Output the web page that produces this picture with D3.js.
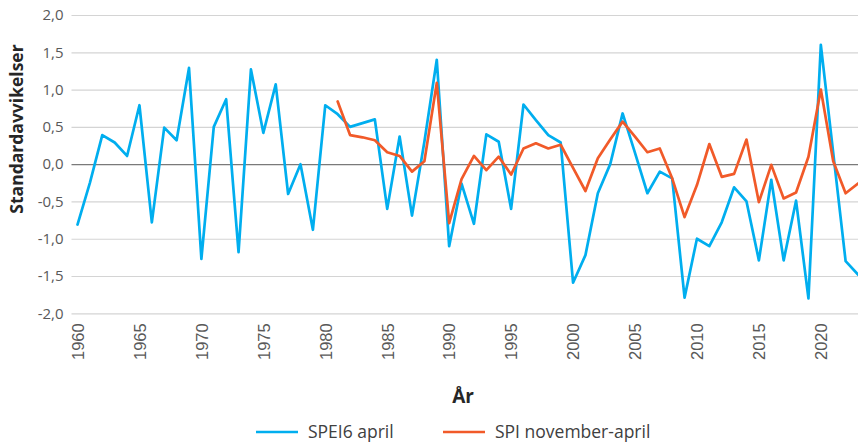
<!DOCTYPE html>
<html>
<head>
<meta charset="utf-8">
<script src="https://cdn.jsdelivr.net/npm/d3@7"></script>
<style>
	body { margin: 0; background: #fff; }
	svg { display: block; }
</style>
</head>
<body>
<div id="root"></div>
<script>
// SPEI6 april, 1960-2023
const years = d3.range(1960, 2024);
const spei6 = [
	-0.81, -0.25, 0.39, 0.29, 0.11, 0.79, -0.78, 0.49, 0.32, 1.29,
	-1.27, 0.5, 0.87, -1.18, 1.27, 0.42, 1.07, -0.4, 0.0, -0.88,
	0.79, 0.67, 0.5, 0.55, 0.6, -0.6, 0.37, -0.69, 0.3, 1.4,
	-1.1, -0.26, -0.8, 0.4, 0.3, -0.6, 0.8, 0.59, 0.39, 0.29,
	-1.59, -1.22, -0.39, 0.0, 0.68, 0.15, -0.39, -0.1, -0.19, -1.79,
	-1.0, -1.1, -0.78, -0.31, -0.5, -1.29, -0.21, -1.29, -0.49, -1.8,
	1.6, 0.15, -1.3, -1.48,
];

// SPI november-april, 1981-2023
const spiYears = d3.range(1981, 2024);
const spi = [
	0.84, 0.39, 0.36, 0.32, 0.16, 0.11, -0.1, 0.04, 1.09,
	-0.79, -0.2, 0.11, -0.08, 0.1, -0.14, 0.21, 0.28, 0.21, 0.26,
	-0.05, -0.36, 0.08, 0.33, 0.57, 0.37, 0.16, 0.21, -0.19, -0.71,
	-0.28, 0.27, -0.17, -0.13, 0.33, -0.51, -0.01, -0.46, -0.38, 0.1,
	1.0, 0.04, -0.39, -0.26,
];

const yTicks = [-2, -1.5, -1, -0.5, 0, 0.5, 1, 1.5, 2];
const xTicks = years.filter((y) => y % 5 === 0);

const seriesNames = ["SPEI6 april", "SPI november-april"];
const colors = ["#00aeef", "#f15a29"];

const main = () => {
	const W = 858, H = 444;
	const left = 71.5, right = 858;
	const top = 15, bottom = 313.3;

	const svg = d3.select("#root").append("svg")
		.attr("width", W)
		.attr("height", H);

	const x = d3.scalePoint().domain(years).range([77.5, 858]);
	const y = d3.scaleLinear().domain([-2, 2]).range([bottom, top]);

	const sv = d3.formatLocale({ decimal: ",", thousands: " ", grouping: [3], currency: ["", ""], minus: "-" });
	const fmt = sv.format(".1f");

	// y axis + gridlines
	const yAxis = svg.append("g")
		.attr("transform", `translate(${left},0)`)
		.call(d3.axisLeft(y).tickValues(yTicks).tickFormat(fmt).tickSize(-(right - left)).tickPadding(8));
	yAxis.select(".domain").remove();
	yAxis.selectAll(".tick line")
		.attr("stroke", (d) => (d === 0 ? "#7a7a7a" : "#d4d4d4"))
		.attr("stroke-width", 1.2);
	yAxis.selectAll(".tick text")
		.attr("fill", "#595959")
		.style("font-family", "'Open Sans', sans-serif")
		.style("font-size", "15px");

	// x axis labels (rotated)
	const xAxis = svg.append("g")
		.attr("transform", `translate(0,${bottom})`)
		.call(d3.axisBottom(x).tickValues(xTicks).tickSize(0));
	xAxis.select(".domain").remove();
	xAxis.selectAll(".tick text")
		.attr("fill", "#595959")
		.style("font-family", "'Liberation Sans', Arial, sans-serif")
		.style("font-size", "16.5px")
		.attr("text-anchor", "end")
		.attr("dy", "0.35em")
		.attr("y", 0)
		.attr("transform", "translate(0,10) rotate(-90)");

	// lines
	const line = d3.line()
		.x((d) => x(d[0]))
		.y((d) => y(d[1]));

	const blueData = years.map((yr, i) => [yr, spei6[i]]);
	const orangeData = spiYears.map((yr, i) => [yr, spi[i]]);

	[blueData, orangeData].forEach((data, i) => {
		svg.append("path")
			.datum(data)
			.attr("fill", "none")
			.attr("stroke", colors[i])
			.attr("stroke-width", 2.7)
			.attr("stroke-linejoin", "round")
			.attr("stroke-linecap", "round")
			.attr("d", line);
	});

	// axis titles
	svg.append("text")
		.attr("transform", `translate(23,129) rotate(-90)`)
		.attr("text-anchor", "middle")
		.attr("fill", "#262626")
		.style("font-family", "'Open Sans', sans-serif")
		.style("font-weight", "700")
		.style("font-size", "17.5px")
		.text("Standardavvikelser");

	svg.append("text")
		.attr("x", 463)
		.attr("y", 403)
		.attr("text-anchor", "middle")
		.attr("fill", "#262626")
		.style("font-family", "'Open Sans', sans-serif")
		.style("font-weight", "700")
		.style("font-size", "19px")
		.text("År");

	// legend
	const legendX = [256, 443];
	const legend = svg.append("g");
	seriesNames.forEach((name, i) => {
		legend.append("line")
			.attr("x1", legendX[i]).attr("x2", legendX[i] + 42)
			.attr("y1", 432).attr("y2", 432)
			.attr("stroke", colors[i])
			.attr("stroke-width", 2.7);
		legend.append("text")
			.attr("x", legendX[i] + 52)
			.attr("y", 432)
			.attr("dy", "0.35em")
			.attr("fill", "#404040")
			.style("font-family", "'Open Sans', sans-serif")
			.style("font-size", "17.5px")
			.text(name);
	});
};

main();
</script>
</body>
</html>
